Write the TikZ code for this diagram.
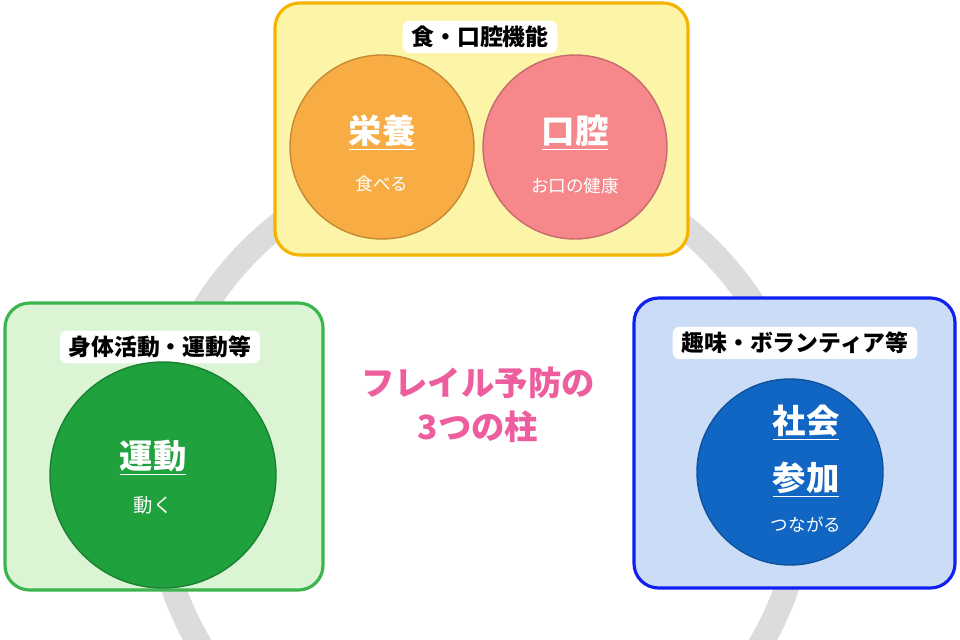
\documentclass[tikz,border=0pt]{standalone}
\usepackage{fontspec}
\setmainfont{Noto Sans CJK JP}
\usetikzlibrary{positioning}
\definecolor{ringgray}{HTML}{DCDCDC}
\definecolor{foodfill}{HTML}{FCF5A8}
\definecolor{foodline}{HTML}{F4B400}
\definecolor{movefill}{HTML}{DAF4D4}
\definecolor{moveline}{HTML}{3DB54F}
\definecolor{socfill}{HTML}{CADCF6}
\definecolor{socline}{HTML}{1020EE}
\definecolor{nutri}{HTML}{F8AC44}
\definecolor{oral}{HTML}{F6878A}
\definecolor{undo}{HTML}{1FA13D}
\definecolor{soc}{HTML}{1166C4}
\definecolor{pillar}{HTML}{EE5E9E}
\tikzset{
  group/.style={draw=#1, line width=1.8pt, rounded corners=14pt},
  tag/.style={fill=white, rounded corners=4pt, inner xsep=5pt, inner ysep=3pt, font=\fontsize{13}{15}\selectfont\bfseries},
  pillarcircle/.style={circle, fill=#1, draw=#1!80!black, line width=0.8pt, text=white, align=center},
  big/.style={font=\fontsize{19}{30}\selectfont\bfseries},
}
\newcommand{\hd}[1]{\underline{#1}}
\begin{document}
\begin{tikzpicture}[x=0.02cm, y=-0.02cm]
\useasboundingbox[fill=white] (0,0) rectangle (960,639);
% ring
\draw[ringgray, line width=14pt] (480,480) circle (325);
% boxes
\filldraw[fill=foodfill, group=foodline] (275,3) rectangle (688,255);
\filldraw[fill=movefill, group=moveline] (5,303) rectangle (323,590);
\filldraw[fill=socfill, group=socline] (634,298) rectangle (955,588);
\node[tag] (foodtag) at (480,37) {食・口腔機能};
\node[tag] (movetag) at (160,347) {身体活動・運動等};
\node[tag] (soctag) at (795,343) {趣味・ボランティア等};
% circles
\node[pillarcircle=nutri, minimum size=184*0.02cm] (nutrition) at (382,147) {};
\node[pillarcircle=oral, minimum size=184*0.02cm] (mouth) at (575,147) {};
\node[pillarcircle=undo, minimum size=226*0.02cm] (exercise) at (163,475) {};
\node[pillarcircle=soc, minimum size=186*0.02cm] (social) at (790,472) {};
\node[text=white, big] at (382,133) {\hd{栄養}};
\node[text=white, font=\fontsize{10}{12}\selectfont] at (382,184) {食べる};
\node[text=white, big] at (575,133) {\hd{口腔}};
\node[text=white, font=\fontsize{10}{12}\selectfont] at (575,186) {お口の健康};
\node[text=white, big] at (153,458) {\hd{運動}};
\node[text=white, font=\fontsize{11}{13}\selectfont] at (153,505) {動く};
\node[text=white, big] at (806,423) {\hd{社会}};
\node[text=white, big] at (806,480) {\hd{参加}};
\node[text=white, font=\fontsize{10}{12}\selectfont] at (806,525) {つながる};
% title
\node[text=pillar, font=\fontsize{19}{25}\selectfont\bfseries, align=center] (title) at (478,405) {フレイル予防の\\3つの柱};
\end{tikzpicture}
\end{document}
